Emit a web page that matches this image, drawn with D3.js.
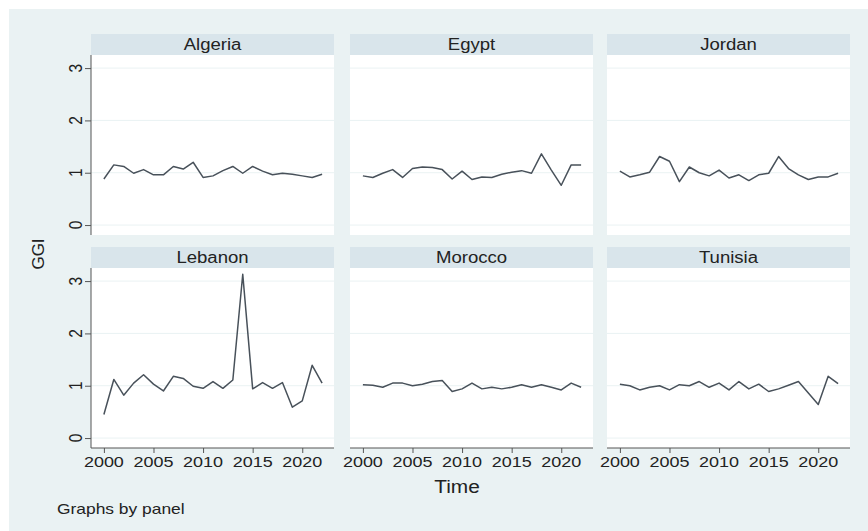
<!DOCTYPE html>
<html><head><meta charset="utf-8">
<script src="https://cdn.jsdelivr.net/npm/d3@7"></script>
<style>body{margin:0;background:#fff}svg{display:block}text{font-family:"Liberation Sans",Arial,sans-serif;fill:#222}</style>
</head><body>
<script>
const years = d3.range(2000, 2023);
const countries = ["Algeria","Egypt","Jordan","Lebanon","Morocco","Tunisia"];
const algeria = [0.88,1.15,1.12,0.99,1.06,0.96,0.96,1.12,1.07,1.20,0.91,0.94,1.04,1.12,0.99,1.12,1.03,0.96,0.99,0.97,0.94,0.91,0.97];
const egypt   = [0.94,0.91,0.99,1.06,0.91,1.08,1.11,1.10,1.06,0.88,1.03,0.87,0.92,0.91,0.97,1.01,1.04,0.99,1.36,1.05,0.76,1.15,1.15];
const jordan  = [1.03,0.92,0.96,1.01,1.31,1.22,0.83,1.11,1.00,0.94,1.05,0.90,0.96,0.85,0.96,0.99,1.31,1.08,0.96,0.87,0.92,0.92,0.99];
const lebanon = [0.45,1.12,0.82,1.05,1.21,1.03,0.90,1.18,1.14,0.99,0.95,1.08,0.95,1.11,3.13,0.94,1.06,0.95,1.06,0.59,0.71,1.39,1.05];
const morocco = [1.02,1.01,0.97,1.05,1.05,1.00,1.03,1.08,1.10,0.89,0.94,1.05,0.94,0.97,0.94,0.97,1.02,0.97,1.02,0.97,0.92,1.05,0.97];
const tunisia = [1.03,1.00,0.92,0.97,1.00,0.92,1.02,1.00,1.08,0.97,1.05,0.92,1.08,0.94,1.03,0.89,0.94,1.01,1.08,0.86,0.64,1.18,1.04];
const seriesValues = [algeria, egypt, jordan, lebanon, morocco, tunisia];
const yTicks = [0,1,2,3];
const xTicks = [2000,2005,2010,2015,2020];
const yTitle = "GGI", xTitle = "Time", note = "Graphs by panel";

const W = 868, H = 531;
const svg = d3.select("body").append("svg").attr("width", W).attr("height", H);
svg.append("rect").attr("x",9).attr("y",9).attr("width",W-9).attr("height",H-9).attr("fill","#eaf2f3");

const pw = 243, ph = 180, stripH = 21;
const lefts = [91, 350, 607], tops = [55, 268];
const x = d3.scaleLinear().domain([1998.7, 2023.2]).range([0, pw]);
const y = d3.scaleLinear().domain([-0.19, 3.25]).range([ph, 0]);
const SX = 1.16;

function txt(g, tx, ty, s, size, rot, anchor) {
  return g.append("text")
    .attr("transform", `translate(${tx},${ty}) scale(${SX},1)` + (rot ? ` rotate(${rot})` : ""))
    .attr("text-anchor", anchor || "middle")
    .attr("dominant-baseline", "central")
    .style("font-size", size + "px").text(s);
}

countries.forEach((c, i) => {
  const col = i % 3, row = Math.floor(i / 3);
  const g = svg.append("g").attr("transform", `translate(${lefts[col]},${tops[row]})`);
  g.append("rect").attr("x",0).attr("y",-stripH).attr("width",pw).attr("height",stripH).attr("fill","#d9e5eb");
  txt(g, pw/2, -stripH/2, c, 16);
  g.append("rect").attr("width",pw).attr("height",ph).attr("fill","#ffffff");
  g.selectAll(".grid").data(yTicks).join("line")
    .attr("x1",0).attr("x2",pw).attr("y1",d=>y(d)).attr("y2",d=>y(d))
    .attr("stroke","#eaf2f3").attr("stroke-width",1);
  if (col === 0) {
    const ya = g.append("g").call(d3.axisLeft(y).tickValues(yTicks).tickSize(6).tickFormat(""));
    ya.select(".domain").attr("d", `M0,0V${ph}`).attr("stroke","#555");
    ya.selectAll(".tick line").attr("stroke","#555");
    yTicks.forEach(t => txt(g, -15, y(t), String(t), 15.5, -90));
  }
  if (row === 1) {
    const xa = g.append("g").attr("transform",`translate(0,${ph})`)
      .call(d3.axisBottom(x).tickValues(xTicks).tickSize(5).tickFormat(""));
    xa.select(".domain").attr("d", `M0,0H${pw}`).attr("stroke","#555");
    xa.selectAll(".tick line").attr("stroke","#555");
    xTicks.forEach(t => txt(g, x(t), ph + 14, String(t), 15.5));
  }
  const line = d3.line().x((d,j)=>x(years[j])).y(d=>y(d));
  g.append("path").datum(seriesValues[i]).attr("d", line)
    .attr("fill","none").attr("stroke","#48515a").attr("stroke-width",1.5).attr("stroke-linejoin","round");
});

svg.append("text").attr("transform","translate(38,254) rotate(-90)")
  .attr("text-anchor","middle").attr("dominant-baseline","central")
  .style("font-size","17px").text(yTitle);
txt(svg, 457, 487, xTitle, 18);
txt(svg, 57, 508, note, 15, 0, "start");
</script>
</body></html>
